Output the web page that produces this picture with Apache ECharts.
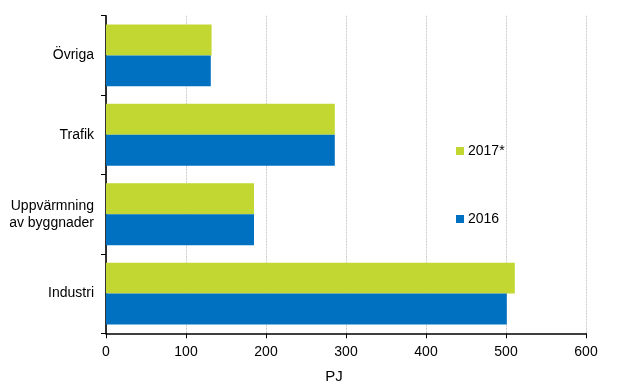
<!DOCTYPE html>
<html>
<head>
<meta charset="utf-8">
<script src="https://cdn.jsdelivr.net/npm/echarts@6/dist/echarts.min.js"></script>
<style>html,body{margin:0;padding:0;background:#fff}#c{width:624px;height:391px}</style>
</head>
<body>
<div id="c"></div>
<script>
// Categories listed bottom-to-top (ECharts category y axis starts at the bottom)
var categories = ['Industri', 'Uppvärmning\nav byggnader', 'Trafik', 'Övriga'];
var seriesNames = ['2017*', '2016'];
var values2017 = [511, 185, 286, 132];
var values2016 = [501, 185, 286, 131];
var xTicks = [0, 100, 200, 300, 400, 500, 600];
var axisName = 'PJ';

var font = 'Liberation Sans, Arial, sans-serif';
var chart = echarts.init(document.getElementById('c'), null, {renderer: 'canvas', width: 624, height: 391});
chart.setOption({
  animation: false,
  backgroundColor: '#fff',
  textStyle: {fontFamily: font},
  grid: {left: 106, right: 38, top: 15.7, bottom: 57.7, containLabel: false, outerBoundsMode: 'none'},
  legend: {
    orient: 'vertical',
    left: 456, top: 144, padding: 0,
    itemWidth: 8, itemHeight: 8, itemGap: 54,
    icon: 'rect',
    data: seriesNames,
    textStyle: {fontFamily: font, fontSize: 14, color: '#000', padding: [0,0,0,-1]}
  },
  xAxis: {
    type: 'value',
    min: xTicks[0], max: xTicks[xTicks.length - 1], interval: 100,
    name: axisName, nameLocation: 'middle', nameGap: 36,
    nameTextStyle: {fontFamily: font, fontSize: 15, color: '#000', padding: [0, 24, 0, 0]},
    axisLine: {show: true, lineStyle: {color: '#000', width: 1.6}},
    axisTick: {show: true, length: 5, lineStyle: {color: '#000', width: 1}},
    axisLabel: {fontFamily: font, fontSize: 14, color: '#000', margin: 12},
    splitLine: {show: true, lineStyle: {color: '#cccccc', type: [2, 1], width: 1}}
  },
  yAxis: {
    type: 'category',
    data: categories,
    axisLine: {show: true, lineStyle: {color: '#000', width: 1.6}},
    axisTick: {show: true, length: 5, lineStyle: {color: '#000', width: 1}},
    axisLabel: {fontFamily: font, fontSize: 14, color: '#000', margin: 12, lineHeight: 17, align: 'right'},
    splitLine: {show: false}
  },
  series: [
    {name: '2017*', type: 'bar', data: values2017, barGap: '0%', barCategoryGap: '22%',
     itemStyle: {color: '#c2d731'}},
    {name: '2016', type: 'bar', data: values2016, barGap: '0%', barCategoryGap: '22%',
     itemStyle: {color: '#0070c0'}}
  ]
});
</script>
</body>
</html>
